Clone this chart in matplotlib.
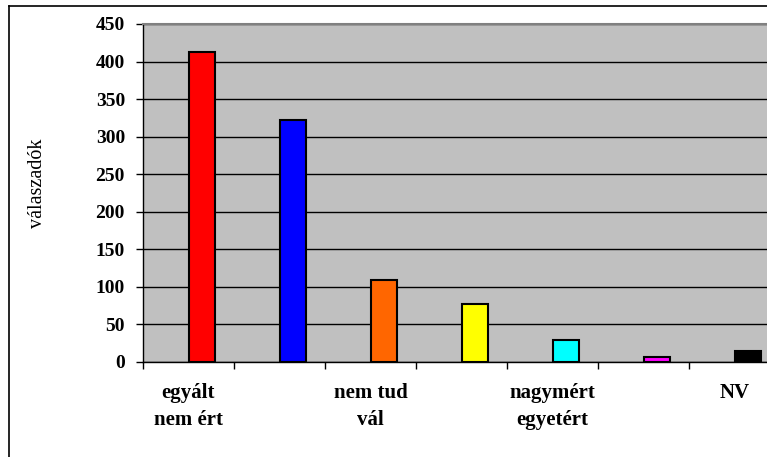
import matplotlib
matplotlib.use("Agg")
import matplotlib.pyplot as plt
from matplotlib.lines import Line2D

categories = ["egyált\nnem ért", "", "nem tud\nvál", "", "nagymért\negyetért", "", "NV"]
values = [413, 322, 109, 77, 29, 6, 14]
colors = ["#FF0000", "#0000FF", "#FF6600", "#FFFF00", "#00FFFF", "#FF00FF", "#000000"]
yticks = [0, 50, 100, 150, 200, 250, 300, 350, 400, 450]
ylabel = "válaszadók"

W, H = 767, 457
fig = plt.figure(figsize=(W / 100, H / 100), dpi=100)
fig.patch.set_facecolor("white")

# outer chart frame (cropped at right and bottom)
fig.add_artist(Line2D([9 / W, 1.05], [1 - 6 / H, 1 - 6 / H], transform=fig.transFigure,
                      color="black", lw=1.2))
fig.add_artist(Line2D([9 / W, 9 / W], [1 - 6 / H, -0.05], transform=fig.transFigure,
                      color="black", lw=1.2))

left, right, top, bottom = 143, 780, 24, 362
ax = fig.add_axes([left / W, 1 - bottom / H, (right - left) / W, (bottom - top) / H])
ax.set_facecolor("#C0C0C0")

n = len(values)
bw = 0.286
ax.bar(range(n), values, width=bw, align="edge", color=colors,
       edgecolor="black", linewidth=1.5, zorder=3)

ax.set_xlim(-0.5, n - 0.5)
ax.set_ylim(0, 450)
ax.set_yticks(yticks)
ax.yaxis.grid(True, color="black", linewidth=1.0, zorder=1)
ax.set_axisbelow(True)

# category boundaries as ticks, labels at centers
ax.set_xticks([i - 0.5 for i in range(n + 1)], minor=True)
ax.set_xticks(range(n))
ax.set_xticklabels(categories, fontsize=15, fontweight="bold",
                   family="Liberation Serif", linespacing=1.45)
ax.tick_params(axis="x", which="major", length=0, pad=15)
ax.tick_params(axis="x", which="minor", length=5, direction="out", width=1)
ax.tick_params(axis="y", which="major", length=5, direction="out", width=1, pad=8)
for lab in ax.get_yticklabels():
    lab.set_fontsize(14)
    lab.set_fontweight("bold")
    lab.set_family("Liberation Serif")

for s in ["left", "bottom"]:
    ax.spines[s].set_color("black")
    ax.spines[s].set_linewidth(1)
ax.spines["top"].set_color("#808080")
ax.spines["top"].set_linewidth(1.5)
ax.spines["right"].set_visible(False)

fig.text(38 / W, 1 - 183 / H, ylabel, rotation=90, ha="center", va="center",
         fontsize=14.5, family="Liberation Serif")

fig.savefig("out.png", dpi=100)
